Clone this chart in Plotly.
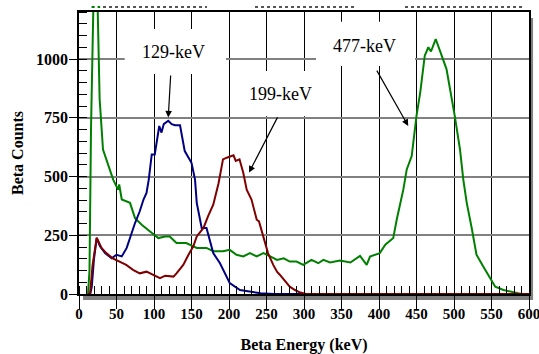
import plotly.graph_objects as go

# ---- data ----
green_x = [12, 14, 16, 18, 22, 25, 27.5, 32, 36, 41, 45.6, 52, 53.6, 57, 62, 68, 74.7, 83.6, 94.7, 105.8,
           114.7, 121, 130, 143, 157, 170, 179, 192, 201, 210, 219, 228, 237, 246, 255, 264, 273, 281,
           290, 299, 310, 319, 325.8, 334.7, 348, 361.8, 374.7, 383.6, 388, 401, 408.4, 419, 423.6, 432.4,
           437, 443.6, 450, 455, 461, 465.8, 469.3, 475.6, 483.6, 490, 501, 508, 512.4, 517, 523.6, 530,
           539, 548, 555, 566, 579, 590, 600]
green_y = [0, 100, 700, 1500, 1700, 1200, 830, 615, 575, 530, 487, 444, 466, 402, 395, 388, 323, 295, 266,
           238, 245, 245, 217, 217, 196, 196, 182, 182, 188, 167, 160, 174, 160, 174, 160, 145, 152, 138,
           138, 124, 145, 131, 145, 134, 142, 134, 162, 124, 159, 174, 210, 238, 316, 444, 530, 587, 758,
           858, 1014, 1050, 1032, 1085, 1014, 957, 758, 615, 487, 388, 281, 167, 117, 67, 31, 17, 6, 0, 0]

blue_x = [12, 15, 17, 20, 23.6, 28, 34.7, 43.6, 50, 57, 63.6, 70, 74.7, 81, 86, 90, 93, 97, 101,
          107, 110, 113, 119, 123.6, 128, 134.7, 141, 150, 154.7, 157, 163.6, 170, 179, 188, 201, 214.7,
          228, 242, 260, 300, 400, 500, 600]
blue_y = [0, 0, 30, 150, 238, 203, 174, 152, 167, 160, 196, 259, 302, 352, 402, 430, 487, 594, 594,
          715, 687, 723, 737, 723, 718, 718, 608, 558, 487, 388, 281, 281, 174, 131, 46, 17,
          10, 3, 0, 0, 0, 0, 0]

red_x = [12, 14.7, 18, 23.6, 30, 36.4, 45, 54, 63, 72, 81, 90, 99, 108, 115, 126, 130, 139, 146, 152.4,
         157, 166, 172, 179, 186, 192, 197, 206, 209, 214, 219, 223.6, 230, 237, 240, 246, 252, 259, 264,
         268, 275, 281, 288, 295, 303, 400, 500, 600]
red_y = [0, 0, 120, 240, 196, 174, 152, 138, 124, 103, 88, 95, 81, 67, 78, 74, 88, 124, 167, 203,
         245, 281, 330, 380, 470, 573, 580, 590, 566, 573, 516, 444, 402, 316, 309, 245, 174, 124, 95,
         81, 53, 31, 17, 6, 0, 0, 0, 0]

labels = ["129-keV", "199-keV", "477-keV"]
label_pos = [(125.6, 1030), (268, 850), (380.7, 1057)]
arrow_tip = [(119, 751), (226.7, 517), (439, 715)]
arrow_tail = [(122.3, 936), (265.7, 758), (396, 957)]
boxes = [(61, 196, 936, 1128), (204, 332, 756, 949), (316, 448, 970, 1158)]

FONT = "Liberation Serif, Times New Roman, serif"

fig = go.Figure()
fig.add_trace(go.Scatter(x=green_x, y=green_y, mode="lines", line=dict(color="#008000", width=2)))
fig.add_trace(go.Scatter(x=blue_x, y=blue_y, mode="lines", line=dict(color="#000080", width=2)))
fig.add_trace(go.Scatter(x=red_x, y=red_y, mode="lines", line=dict(color="#800000", width=2)))

shapes = []
for x0, x1, y0, y1 in boxes:
    shapes.append(dict(type="rect", xref="x", yref="y", x0=x0, x1=x1, y0=y0, y1=y1,
                       fillcolor="white", line=dict(width=0), layer="between"))
shapes.append(dict(type="rect", xref="paper", yref="paper", x0=0.009, x1=1.009, y0=-0.021, y1=0,
                   fillcolor="#808080", line=dict(width=0), layer="below"))
shapes.append(dict(type="rect", xref="paper", yref="paper", x0=1.0, x1=1.009, y0=-0.021, y1=0.979,
                   fillcolor="#808080", line=dict(width=0), layer="below"))
shapes.append(dict(type="line", xref="paper", yref="paper", x0=0.028, x1=0.047, y0=1.0177, y1=1.0177,
                   line=dict(color="#008000", width=2, dash="dot")))
for a, b in [(103, 207), (255, 357), (405, 523)]:
    shapes.append(dict(type="line", xref="paper", yref="paper", x0=(a - 79) / 450, x1=(b - 79) / 450,
                       y0=1.0177, y1=1.0177, line=dict(color="#555555", width=2, dash="dot")))

annotations = []
for t, (lx, ly) in zip(labels, label_pos):
    annotations.append(dict(x=lx, y=ly, xref="x", yref="y", text=t, showarrow=False,
                            font=dict(family=FONT, size=18, color="black")))
for (tx, ty), (ax, ay) in zip(arrow_tip, arrow_tail):
    annotations.append(dict(x=tx, y=ty, xref="x", yref="y", ax=ax, ay=ay, axref="x", ayref="y",
                            text="", showarrow=True, arrowhead=2, arrowsize=1.1, arrowwidth=1.2,
                            arrowcolor="black", standoff=0))

fig.update_layout(
    width=539, height=354,
    margin=dict(l=79, r=10, t=12, b=60, autoexpand=False),
    paper_bgcolor="white", plot_bgcolor="white",
    showlegend=False,
    shapes=shapes, annotations=annotations,
    font=dict(family=FONT, color="black"),
)
fig.update_xaxes(
    range=[0, 600], tick0=0, dtick=50, showgrid=True, gridcolor="black", gridwidth=1.2,
    ticks="outside", ticklen=13, tickcolor="black", tickwidth=1.2, ticklabelstandoff=-8,
    ticklabeloverflow="allow",
    minor=dict(dtick=10, ticks="inside", ticklen=8, tickcolor="black", showgrid=False),
    showline=True, linecolor="black", linewidth=1.5, mirror=True, zeroline=False, automargin=False,
    tickfont=dict(family=FONT, size=15, color="black", weight="bold"),
    title=dict(text="<b>Beta Energy (keV)</b>", font=dict(family=FONT, size=16, color="black"), standoff=18),
)
fig.update_yaxes(
    range=[0, 1200], tick0=0, dtick=250, showgrid=True, gridcolor="#808080", gridwidth=1.5,
    ticks="outside", ticklen=8, tickcolor="black", tickwidth=1, ticklabelstandoff=-2,
    minor=dict(dtick=50, ticks="inside", ticklen=8, tickcolor="black", showgrid=False),
    showline=True, linecolor="black", linewidth=1.5, mirror=True, zeroline=False, automargin=False,
    tickfont=dict(family=FONT, size=16, color="black", weight="bold"),
    title=dict(text="<b>Beta Counts</b>", font=dict(family=FONT, size=16, color="black"), standoff=8),
)

fig.write_html("out.html")
